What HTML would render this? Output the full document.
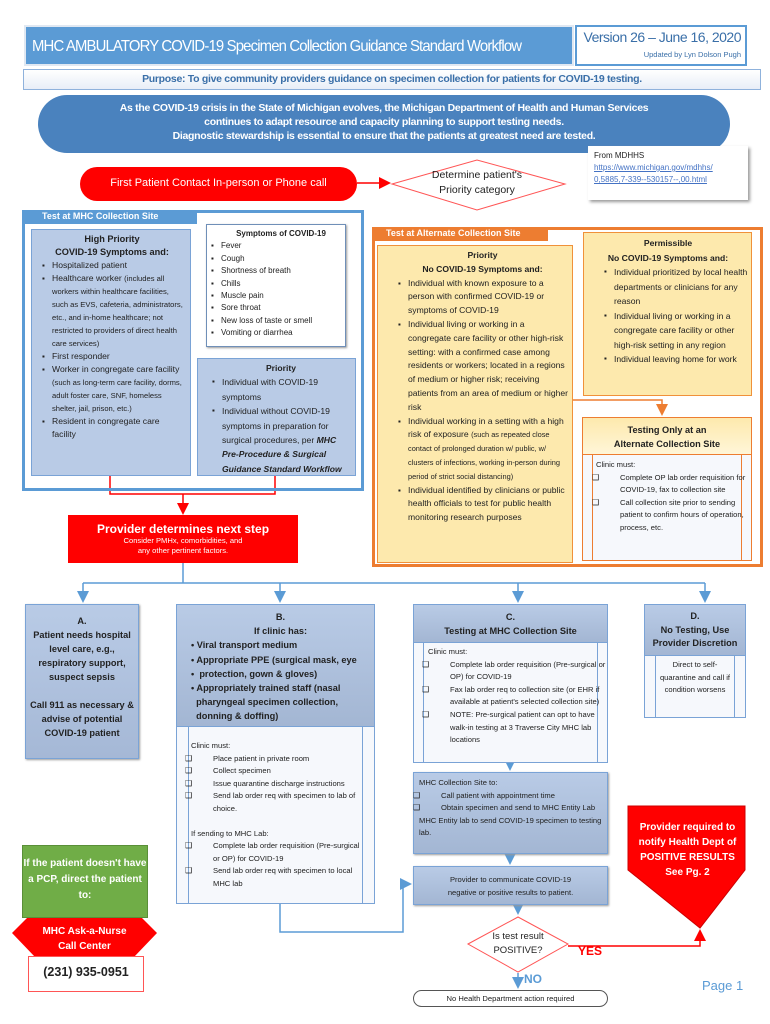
<!DOCTYPE html>
<html><head><meta charset="utf-8"><style>
body{margin:0;width:770px;height:1024px;background:#fff;position:relative;overflow:hidden;font-family:"Liberation Sans",sans-serif;color:#222}
.a{position:absolute;box-sizing:border-box}
ul{margin:0;padding:0 0 0 12px;list-style:none}
li{position:relative}
li:before{content:"▪";position:absolute;left:-10px;font-size:8px}
.sq li:before{content:"❑";left:-28px;font-size:8px}
.sq{padding-left:30px}
.lb{background:#b9cbe6;border:1.5px solid #7aa3d6}
.yl{background:#fde9ad;border:1.5px solid #f0913a}
.s{font-size:8px;line-height:12px}
</style></head><body>
<svg class="a" style="left:0;top:0" width="770" height="1024">
<defs>
<marker id="rb" markerWidth="8" markerHeight="8" refX="6" refY="4" orient="auto"><path d="M0,0L8,4L0,8z" fill="#5b9bd5"/></marker>
<marker id="rr" markerWidth="8" markerHeight="8" refX="6" refY="4" orient="auto"><path d="M0,0L8,4L0,8z" fill="#f00"/></marker>
<marker id="ro" markerWidth="8" markerHeight="8" refX="6" refY="4" orient="auto"><path d="M0,0L8,4L0,8z" fill="#ed7d31"/></marker>
</defs>
<polyline points="357,183 388,183" stroke="#f00" stroke-width="1.5" fill="none" marker-end="url(#rr)"/>
<polyline points="110,476 110,494 275,494 275,476" stroke="#f00" stroke-width="1.5" fill="none"/>
<polyline points="183,494 183,512" stroke="#f00" stroke-width="1.5" fill="none" marker-end="url(#rr)"/>
<polyline points="183,563 183,583" stroke="#5b9bd5" stroke-width="1.5" fill="none"/>
<polyline points="83,583 705,583" stroke="#5b9bd5" stroke-width="1.5" fill="none"/>
<polyline points="83,583 83,600" stroke="#5b9bd5" stroke-width="1.5" marker-end="url(#rb)"/>
<polyline points="280,583 280,600" stroke="#5b9bd5" stroke-width="1.5" marker-end="url(#rb)"/>
<polyline points="518,583 518,600" stroke="#5b9bd5" stroke-width="1.5" marker-end="url(#rb)"/>
<polyline points="705,583 705,600" stroke="#5b9bd5" stroke-width="1.5" marker-end="url(#rb)"/>
<polyline points="572,400 662,400 662,413" stroke="#ed7d31" stroke-width="1.5" fill="none" marker-end="url(#ro)"/>
<polyline points="510,762 510,768" stroke="#5b9bd5" stroke-width="1.5" marker-end="url(#rb)"/>
<polyline points="510,853 510,862" stroke="#5b9bd5" stroke-width="1.5" marker-end="url(#rb)"/>
<polyline points="280,903 280,932 403,932 403,884 409,884" stroke="#5b9bd5" stroke-width="1.5" fill="none" marker-end="url(#rb)"/>
<polyline points="518,904 518,912" stroke="#5b9bd5" stroke-width="1.5" marker-end="url(#rb)"/>
<polyline points="518,973 518,986" stroke="#5b9bd5" stroke-width="1.5" marker-end="url(#rb)"/>
<polyline points="568,946 700,946 700,932" stroke="#f00" stroke-width="1.5" fill="none" marker-end="url(#rr)"/>
<polygon points="392,184 477,160 565,184 477,210" fill="#fff" stroke="#f55" stroke-width="1"/>
<polygon points="468,944 518,917 568,944 518,972" fill="#fff" stroke="#f55" stroke-width="1"/>
<polygon points="628,806 745,806 745,870 700,928 628,870" fill="#f00" stroke="#c00"/>
<polygon points="12,933 35,910 134,910 157,933 134,957 35,957" fill="#f00"/>
</svg>

<div class="a" style="left:24px;top:25px;width:550px;height:41px;background:#5b9bd5;border:2px solid #e0e8f2;color:#fff;font-size:16px;letter-spacing:-0.9px;padding:11px 0 0 6px;white-space:nowrap;overflow:hidden"><span style="display:inline-block;transform:scaleX(0.93);transform-origin:left">MHC AMBULATORY COVID-19 Specimen Collection Guidance Standard Workflow</span></div>
<div class="a" style="left:575px;top:25px;width:172px;height:41px;border:2px solid #5b9bd5;color:#3a6fa8;text-align:right;padding:2px 4px;white-space:nowrap"><div style="font-size:14px;letter-spacing:-0.5px">Version 26 – June 16, 2020</div><div style="font-size:7.5px;margin-top:5px">Updated by Lyn Dolson Pugh</div></div>
<div class="a" style="left:23px;top:69px;width:738px;height:21px;border:1.5px solid #8fb2dc;background:linear-gradient(#fff,#e8eef7);color:#3a6fa8;font-size:10.5px;font-weight:bold;text-align:center;padding-top:3px;letter-spacing:-0.3px">Purpose: To give community providers guidance on specimen collection for patients for COVID-19 testing.</div>
<div class="a" style="left:38px;top:95px;width:692px;height:58px;border-radius:29px;background:#4a82be;color:#fff;font-size:10.5px;font-weight:bold;text-align:center;line-height:14px;padding-top:6px;letter-spacing:-0.3px">As the COVID-19 crisis in the State of Michigan evolves, the Michigan Department of Health and Human Services<br>continues to adapt resource and capacity planning to support testing needs.<br>Diagnostic stewardship is essential to ensure that the patients at greatest need are tested.</div>
<div class="a" style="left:588px;top:146px;width:160px;height:54px;background:#fff;box-shadow:2px 2px 3px #999;font-size:8px;line-height:12px;padding:4px 0 0 6px">From MDHHS<br><span style="color:#4472c4;text-decoration:underline">https://www.michigan.gov/mdhhs/<br>0,5885,7-339--530157--,00.html</span></div>
<div class="a" style="left:80px;top:167px;width:277px;height:34px;border-radius:17px;background:#f00;color:#fff;font-size:11px;text-align:center;padding-top:10px">First Patient Contact In-person or Phone call</div>
<div class="a" style="left:410px;top:168px;width:134px;text-align:center;font-size:10.5px;line-height:15px">Determine patient's<br>Priority category</div>

<div class="a" style="left:22px;top:210px;width:342px;height:281px;border:3px solid #5b9bd5"></div>
<div class="a" style="left:22px;top:210px;width:175px;height:14px;background:#5b9bd5;color:#fff;font-size:9px;font-weight:bold;padding:1px 0 0 20px">Test at MHC Collection Site</div>
<div class="a lb s" style="left:31px;top:229px;width:160px;height:247px;padding:3px 6px 0 8px;font-size:8.6px;line-height:13px"><div style="text-align:center;font-weight:bold;font-size:9.2px">High Priority<br>COVID-19 Symptoms and:</div><ul><li>Hospitalized patient</li><li>Healthcare worker <span style="font-size:7.6px">(includes all workers within healthcare facilities, such as EVS, cafeteria, administrators, etc., and in-home healthcare; not restricted to providers of direct health care services)</span></li><li>First responder</li><li>Worker in congregate care facility <span style="font-size:7.6px">(such as long-term care facility, dorms, adult foster care, SNF, homeless shelter, jail, prison, etc.)</span></li><li>Resident in congregate care facility</li></ul></div>
<div class="a" style="left:206px;top:224px;width:140px;height:123px;border:1.5px solid #6f8fb8;box-shadow:1px 1px 2px #999;font-size:8px;line-height:12.4px;padding:3px 4px 0 14px"><div style="font-weight:bold;text-align:center">Symptoms of COVID-19</div><ul style="padding:0"><li>Fever</li><li>Cough</li><li>Shortness of breath</li><li>Chills</li><li>Muscle pain</li><li>Sore throat</li><li>New loss of taste or smell</li><li>Vomiting or diarrhea</li></ul></div>
<div class="a lb" style="left:197px;top:358px;width:159px;height:118px;font-size:8.6px;line-height:14.4px;padding:2px 3px 0 12px"><div style="font-weight:bold;text-align:center">Priority</div><ul><li>Individual with COVID-19 symptoms</li><li>Individual without COVID-19 symptoms in preparation for surgical procedures, per <b><i>MHC Pre-Procedure &amp; Surgical Guidance Standard Workflow</i></b></li></ul></div>

<div class="a" style="left:68px;top:515px;width:230px;height:48px;background:#f00;color:#fff;text-align:center;padding-top:7px"><div style="font-size:12px;font-weight:bold">Provider determines next step</div><div style="font-size:7.6px;line-height:10px">Consider PMHx, comorbidities, and<br>any other pertinent factors.</div></div>

<div class="a" style="left:372px;top:227px;width:391px;height:340px;border:3px solid #ed7d31"></div>
<div class="a" style="left:372px;top:227px;width:176px;height:14px;background:#ed7d31;color:#fff;font-size:9px;font-weight:bold;padding:1px 0 0 14px">Test at Alternate Collection Site</div>
<div class="a yl" style="left:377px;top:245px;width:196px;height:318px;font-size:8.6px;line-height:13.8px;padding:3px 3px 0 18px"><div style="font-weight:bold;text-align:center">Priority<br>No COVID-19 Symptoms and:</div><ul><li>Individual with known exposure to a person with confirmed COVID-19 or symptoms of COVID-19</li><li>Individual living or working in a congregate care facility or other high-risk setting: with a confirmed case among residents or workers; located in a regions of medium or higher risk; receiving patients from an area of medium or higher risk</li><li>Individual working in a setting with a high risk of exposure <span style="font-size:7.4px;line-height:12px">(such as repeated close contact of prolonged duration w/ public, w/ clusters of infections, working in-person during period of strict social distancing)</span></li><li>Individual identified by clinicians or public health officials to test for public health monitoring research purposes</li></ul></div>
<div class="a yl" style="left:583px;top:232px;width:169px;height:164px;font-size:8.6px;line-height:14.5px;padding:3px 3px 0 18px"><div style="font-weight:bold;text-align:center;margin-left:-14px">Permissible<br>No COVID-19 Symptoms and:</div><ul><li>Individual prioritized by local health departments or clinicians for any reason</li><li>Individual living or working in a congregate care facility or other high-risk setting in any region</li><li>Individual leaving home for work</li></ul></div>
<div class="a" style="left:582px;top:417px;width:170px;height:144px;border:1.5px solid #ed7d31;background:#f6f8fc"></div>
<div class="a" style="left:592px;top:455px;width:150px;height:106px;border-left:1px solid #ed7d31;border-right:1px solid #ed7d31"></div>
<div class="a" style="left:582px;top:417px;width:170px;height:38px;background:linear-gradient(#fde9ad,#fff6d8);border:1.5px solid #ed7d31;font-weight:bold;font-size:9.2px;text-align:center;padding-top:5px;line-height:14px">Testing Only at an<br>Alternate Collection Site</div>
<div class="a" style="left:596px;top:459px;width:150px;font-size:7.6px;line-height:12.6px">Clinic must:<ul class="sq" style="padding-left:24px"><li>Complete OP lab order requisition for COVID-19, fax to collection site</li><li>Call collection site prior to sending patient to confirm hours of operation, process, etc.</li></ul></div>

<div class="a lb" style="left:25px;top:604px;width:114px;height:155px;background:linear-gradient(#b9cbe6,#a5b8d6);box-shadow:1px 1px 2px #999;text-align:center;font-weight:bold;font-size:9.2px;line-height:14px;padding-top:9px">A.<br>Patient needs hospital level care, e.g., respiratory support, suspect sepsis<br><br>Call 911 as necessary &amp; advise of potential COVID-19 patient</div>

<div class="a" style="left:176px;top:604px;width:199px;height:300px;border:1.5px solid #7aa3d6;background:#f6f8fc"></div>
<div class="a" style="left:188px;top:726px;width:175px;height:178px;border-left:1px solid #7aa3d6;border-right:1px solid #7aa3d6"></div>
<div class="a lb" style="left:176px;top:604px;width:199px;height:123px;background:linear-gradient(#b9cbe6,#a3b6d3);font-weight:bold;font-size:9.2px;line-height:14.2px;padding:5px 4px 0 14px"><div style="text-align:center">B.<br>If clinic has:</div><div>• Viral transport medium<br>• Appropriate PPE (surgical mask, eye<br>•&nbsp; protection, gown &amp; gloves)<br>• Appropriately trained staff (nasal<br>&nbsp;&nbsp;pharyngeal specimen collection,<br>&nbsp;&nbsp;donning &amp; doffing)</div></div>
<div class="a" style="left:191px;top:740px;width:175px;font-size:7.6px;line-height:12.6px">Clinic must:<ul class="sq" style="padding-left:22px"><li>Place patient in private room</li><li>Collect specimen</li><li>Issue quarantine discharge instructions</li><li>Send lab order req with specimen to lab of choice.</li></ul><div style="height:12px"></div>If sending to MHC Lab:<ul class="sq" style="padding-left:22px"><li>Complete lab order requisition (Pre-surgical or OP) for COVID-19</li><li>Send lab order req with specimen to local MHC lab</li></ul></div>

<div class="a" style="left:413px;top:604px;width:195px;height:159px;border:1.5px solid #7aa3d6;background:#f6f8fc"></div>
<div class="a" style="left:423px;top:642px;width:175px;height:121px;border-left:1px solid #7aa3d6;border-right:1px solid #7aa3d6"></div>
<div class="a lb" style="left:413px;top:604px;width:195px;height:39px;background:linear-gradient(#b9cbe6,#a3b6d3);font-weight:bold;font-size:9.2px;text-align:center;line-height:14px;padding-top:5px">C.<br>Testing at MHC Collection Site</div>
<div class="a" style="left:428px;top:646px;width:178px;font-size:7.6px;line-height:12.6px">Clinic must:<ul class="sq" style="padding-left:22px"><li>Complete lab order requisition (Pre-surgical or OP) for COVID-19</li><li>Fax lab order req to collection site (or EHR if available at patient's selected collection site)</li><li>NOTE: Pre-surgical patient can opt to have walk-in testing at 3 Traverse City MHC lab locations</li></ul></div>
<div class="a lb" style="left:413px;top:772px;width:195px;height:82px;background:linear-gradient(#b9cbe6,#a3b6d3);box-shadow:1px 1px 2px #999;font-size:7.6px;line-height:12.6px;padding:4px 4px 0 5px">MHC Collection Site to:<ul class="sq" style="padding-left:22px"><li>Call patient with appointment time</li><li>Obtain specimen and send to MHC Entity Lab</li></ul>MHC Entity lab to send COVID-19 specimen to testing lab.</div>
<div class="a lb" style="left:413px;top:866px;width:195px;height:39px;background:linear-gradient(#b9cbe6,#a3b6d3);box-shadow:1px 1px 2px #999;font-size:7.6px;line-height:12.6px;text-align:center;padding-top:7px">Provider to communicate COVID-19<br>negative or positive results to patient.</div>

<div class="a" style="left:644px;top:604px;width:102px;height:114px;border:1.5px solid #7aa3d6;background:#f6f8fc"></div>
<div class="a" style="left:655px;top:655px;width:80px;height:63px;border-left:1px solid #7aa3d6;border-right:1px solid #7aa3d6;font-size:7.6px;line-height:12.6px;text-align:center;padding-top:4px">Direct to self-quarantine and call if condition worsens</div>
<div class="a lb" style="left:644px;top:604px;width:102px;height:52px;background:linear-gradient(#b9cbe6,#a3b6d3);font-weight:bold;font-size:9.2px;text-align:center;line-height:13.5px;padding-top:5px">D.<br>No Testing, Use Provider Discretion</div>

<div class="a" style="left:630px;top:820px;width:115px;color:#fff;font-weight:bold;font-size:10px;line-height:15px;text-align:center">Provider required to notify Health Dept of POSITIVE RESULTS See Pg. 2</div>

<div class="a" style="left:22px;top:845px;width:126px;height:73px;background:#70ad47;border:1px solid #5a8f38;color:#fff;font-weight:bold;font-size:10px;line-height:16px;text-align:center;padding-top:10px">If the patient doesn't have a PCP, direct the patient to:</div>
<div class="a" style="left:12px;top:924px;width:145px;color:#fff;font-size:10px;line-height:15px;text-align:center;font-weight:bold">MHC Ask-a-Nurse<br>Call Center</div>
<div class="a" style="left:28px;top:956px;width:116px;height:36px;border:1.5px solid #f55;background:#fff;font-weight:bold;font-size:12.5px;text-align:center;padding-top:8px">(231) 935-0951</div>

<div class="a" style="left:472px;top:930px;width:92px;text-align:center;font-size:9.5px;line-height:14px">Is test result<br>POSITIVE?</div>
<div class="a" style="left:578px;top:944px;color:#f00;font-weight:bold;font-size:12px">YES</div>
<div class="a" style="left:524px;top:972px;color:#5b9bd5;font-weight:bold;font-size:12px">NO</div>
<div class="a" style="left:413px;top:990px;width:195px;height:17px;border:1px solid #555;border-radius:9px;font-size:7.6px;text-align:center;padding-top:3px">No Health Department action required</div>
<div class="a" style="left:702px;top:978px;color:#5b9bd5;font-size:13px">Page 1</div>
</body></html>
